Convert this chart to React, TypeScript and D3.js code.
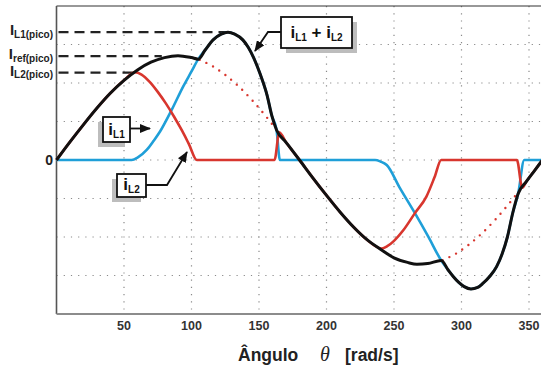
import React from "react";
import * as d3 from "d3";

// ---- data ----
const xTicks = [50, 100, 150, 200, 250, 300, 350];
const yGrid = [-3, -2, -1, 0, 1, 2, 3];

const thetaTotal = [0, 10, 20, 30, 40, 50, 60, 70, 80, 90, 100, 105, 110, 116, 122, 127, 132, 138, 142, 146, 151, 156, 159.5, 163, 170, 180, 190, 200, 210, 220, 230, 240, 250, 260, 267, 275, 285, 290, 294, 298, 302, 307, 312, 316, 321, 326, 330, 334, 338, 342, 348, 354, 360];
const iTotal = [0, 0.47, 0.92, 1.35, 1.74, 2.07, 2.34, 2.54, 2.66, 2.71, 2.66, 2.62, 2.85, 3.12, 3.27, 3.32, 3.27, 3.12, 2.93, 2.66, 2.22, 1.68, 1.15, 0.78, 0.46, 0, -0.47, -0.92, -1.35, -1.74, -2.07, -2.32, -2.54, -2.66, -2.71, -2.69, -2.61, -2.85, -3.03, -3.18, -3.29, -3.35, -3.31, -3.2, -3.02, -2.77, -2.45, -2.0, -1.37, -0.87, -0.56, -0.28, 0];

const thetaL1 = [0, 55.7, 60, 66.8, 72, 76.7, 85.3, 94, 100, 105, 110, 116, 122, 127, 132, 138, 142, 146, 151, 156, 159.5, 163, 165.5, 236, 240, 244.6, 254.4, 265.5, 275.4, 285, 290, 294, 298, 302, 307, 312, 316, 321, 326, 330, 334, 338, 342, 346.5, 360];
const iL1 = [0, 0, 0.06, 0.26, 0.5, 0.74, 1.3, 1.92, 2.3, 2.62, 2.85, 3.12, 3.27, 3.32, 3.27, 3.12, 2.93, 2.66, 2.22, 1.68, 1.15, 0.78, 0, 0, -0.04, -0.13, -0.73, -1.38, -1.99, -2.61, -2.85, -3.03, -3.18, -3.29, -3.35, -3.31, -3.2, -3.02, -2.77, -2.45, -2.0, -1.37, -0.87, 0, 0];

const thetaL2 = [0, 10, 20, 30, 40, 50, 58, 63, 69, 75, 81, 87, 93, 98, 104, 161.5, 165, 170, 180, 190, 200, 210, 220, 230, 241, 245, 250, 257, 265.5, 274, 280, 285, 341, 345, 348, 354, 360];
const iL2 = [0, 0.47, 0.92, 1.35, 1.74, 2.07, 2.28, 2.22, 2.03, 1.77, 1.47, 1.13, 0.76, 0.42, 0, 0, 0.72, 0.46, 0, -0.47, -0.92, -1.35, -1.74, -2.07, -2.3, -2.24, -2.1, -1.82, -1.38, -0.95, -0.45, 0, 0, -0.72, -0.56, -0.28, 0];

const thetaRefA = [106, 115, 125, 135, 145, 155, 162];
const iRefA = [2.6, 2.45, 2.21, 1.91, 1.55, 1.14, 0.83];
const thetaRefB = [286, 295, 305, 315, 325, 335, 341];
const iRefB = [-2.6, -2.45, -2.21, -1.91, -1.55, -1.14, -0.88];

const peakLabels = ["L1(pico)", "ref(pico)", "L2(pico)"];
const peakValues = [3.32, 2.7, 2.27];
const peakDashEnd = [127, 78, 57];

const W = 541;
const H = 370;
const FONT = "'Liberation Sans', Arial, Helvetica, sans-serif";

export default function App() {
  const x = d3.scaleLinear().domain([0, 360]).range([56.5, 542.5]);
  const y = d3.scaleLinear().domain([-4, 4]).range([314, 6]);

  const mk = (ts: number[], vs: number[]) =>
    d3
      .line<number>()
      .x((_, i) => x(ts[i]))
      .y((v) => y(v))
      .curve(d3.curveMonotoneX)(vs) as string;

  const blue = "#1f9fd8";
  const red = "#d8362e";

  return (
    <svg
      width={W}
      height={H}
      style={{ position: "absolute", left: 0, top: 0, background: "#fff" }}
      fontFamily={FONT}
    >
      <defs>
        <marker
          id="ah"
          markerUnits="userSpaceOnUse"
          markerWidth={11}
          markerHeight={9}
          refX={10}
          refY={4.5}
          orient="auto"
        >
          <path d="M0,0 L11,4.5 L0,9 z" fill="#111" />
        </marker>
      </defs>

      {/* grid */}
      {xTicks.map((t) => (
        <line
          key={"vx" + t}
          x1={x(t)}
          x2={x(t)}
          y1={y(4)}
          y2={y(-4)}
          stroke="#8a8a8a"
          strokeWidth={1.2}
          strokeDasharray="1.2 6"
        />
      ))}
      {yGrid.map((g) => (
        <line
          key={"hy" + g}
          x1={x(0)}
          x2={W}
          y1={y(g)}
          y2={y(g)}
          stroke="#8a8a8a"
          strokeWidth={1.2}
          strokeDasharray="1.2 6"
        />
      ))}

      {/* frame */}
      <line x1={x(0)} x2={W} y1={y(4)} y2={y(4)} stroke="#333" strokeWidth={1.2} />
      <line x1={x(0)} x2={x(0)} y1={y(4)} y2={y(-4)} stroke="#555" strokeWidth={1.6} />
      <line x1={x(0)} x2={W} y1={y(-4)} y2={y(-4)} stroke="#8c8c8c" strokeWidth={2} />

      {/* ticks labels */}
      {xTicks.map((t) => (
        <text
          key={"tx" + t}
          x={x(t)}
          y={330}
          textAnchor="middle"
          fontSize={12.5}
          fontWeight="bold"
          fill="#333"
        >
          {t}
        </text>
      ))}
      <text x={53} y={y(0) + 5} textAnchor="end" fontSize={14} fontWeight="bold" fill="#222">
        0
      </text>

      {/* peak labels and dashes */}
      {peakLabels.map((lab, i) => (
        <g key={lab}>
          <line
            x1={x(0) + 2}
            x2={x(peakDashEnd[i])}
            y1={y(peakValues[i])}
            y2={y(peakValues[i])}
            stroke="#222"
            strokeWidth={2.2}
            strokeDasharray="10 6"
          />
          <text
            x={53}
            y={y(peakValues[i]) + 3}
            textAnchor="end"
            fontWeight="bold"
            fill="#222"
          >
            <tspan fontSize={15}>I</tspan>
            <tspan fontSize={10} dy={2.5}>
              {lab}
            </tspan>
          </text>
        </g>
      ))}

      {/* reference continuation (dotted) */}
      <path d={mk(thetaRefA, iRefA)} fill="none" stroke={red} strokeWidth={2.4} strokeLinecap="round" strokeDasharray="0 7.5" />
      <path d={mk(thetaRefB, iRefB)} fill="none" stroke={red} strokeWidth={2.4} strokeLinecap="round" strokeDasharray="0 7.5" />

      {/* currents */}
      <path d={mk(thetaL1, iL1)} fill="none" stroke={blue} strokeWidth={2.6} strokeLinejoin="round" />
      <path d={mk(thetaL2, iL2)} fill="none" stroke={red} strokeWidth={2.6} strokeLinejoin="round" />
      <path d={mk(thetaTotal, iTotal)} fill="none" stroke="#111" strokeWidth={3} strokeLinejoin="round" />

      {/* annotation: iL1 + iL2 */}
      <rect x={286} y={22} width={71} height={31} fill="#bdbdbd" />
      <rect x={281} y={17} width={71} height={31} fill="#fff" stroke="#111" strokeWidth={1.8} />
      <text x={316.5} y={38} textAnchor="middle" fontWeight="bold" fill="#111">
        <tspan fontSize={17}>i</tspan>
        <tspan fontSize={10} dy={2.5}>L1</tspan>
        <tspan fontSize={17} dy={-2.5}> + i</tspan>
        <tspan fontSize={10} dy={2.5}>L2</tspan>
      </text>
      <polyline points="281,32 268,32 255,51" fill="none" stroke="#111" strokeWidth={1.8} markerEnd="url(#ah)" />

      {/* annotation: iL1 */}
      <rect x={98} y={122} width={27} height={25} fill="#bdbdbd" />
      <rect x={103} y={117} width={27} height={25} fill="#fff" stroke="#111" strokeWidth={1.8} />
      <text x={116.5} y={135} textAnchor="middle" fontWeight="bold" fill="#111">
        <tspan fontSize={17}>i</tspan>
        <tspan fontSize={10} dy={2.5}>L1</tspan>
      </text>
      <polyline points="130,128.5 150,128.5" fill="none" stroke="#111" strokeWidth={1.8} markerEnd="url(#ah)" />

      {/* annotation: iL2 */}
      <rect x={112} y={179} width={29} height={23} fill="#bdbdbd" />
      <rect x={117} y={174} width={29} height={23} fill="#fff" stroke="#111" strokeWidth={1.8} />
      <text x={131.5} y={190} textAnchor="middle" fontWeight="bold" fill="#111">
        <tspan fontSize={17}>i</tspan>
        <tspan fontSize={10} dy={2.5}>L2</tspan>
      </text>
      <polyline points="146,185 167,185 187,152" fill="none" stroke="#111" strokeWidth={1.8} markerEnd="url(#ah)" />

      {/* x axis title */}
      <text x={238} y={361} fontSize={17.5} fontWeight="bold" fill="#222">
        Ângulo
      </text>
      <text
        x={325}
        y={361}
        textAnchor="middle"
        fontSize={20}
        fontStyle="italic"
        fontFamily="'Liberation Serif', 'Times New Roman', serif"
        fill="#222"
      >
        θ
      </text>
      <text x={345} y={361} fontSize={17.5} fontWeight="bold" fill="#222">
        [rad/s]
      </text>
    </svg>
  );
}
